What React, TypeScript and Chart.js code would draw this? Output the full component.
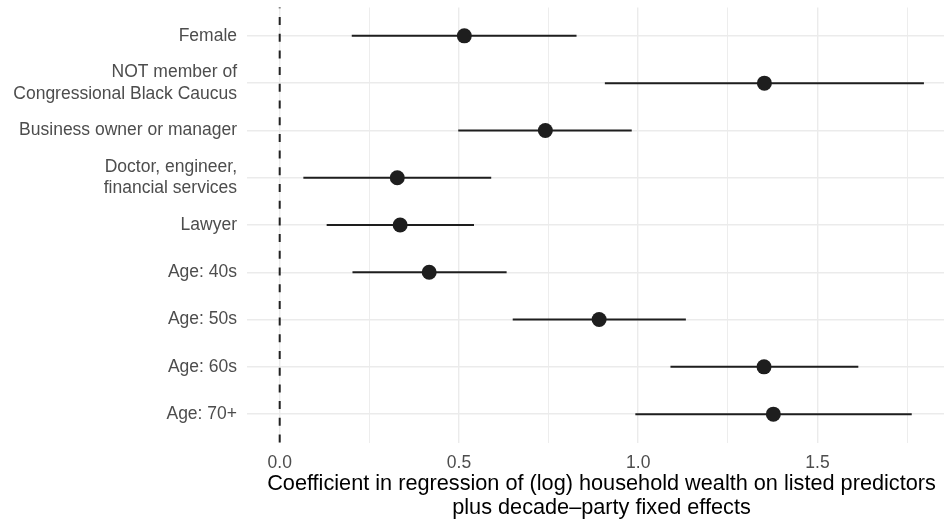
import React, { useEffect, useRef } from "react";
import { Chart, registerables } from "chart.js";

Chart.register(...registerables);

const categories: (string | string[])[] = [
  "Female",
  ["NOT member of", "Congressional Black Caucus"],
  "Business owner or manager",
  ["Doctor, engineer,", "financial services"],
  "Lawyer",
  "Age: 40s",
  "Age: 50s",
  "Age: 60s",
  "Age: 70+",
];
const estimates = [0.515, 1.352, 0.741, 0.328, 0.336, 0.417, 0.891, 1.351, 1.377];
const lower = [0.201, 0.907, 0.498, 0.066, 0.131, 0.203, 0.65, 1.09, 0.992];
const upper = [0.828, 1.797, 0.982, 0.59, 0.542, 0.633, 1.133, 1.614, 1.763];
const xTickValues = [0, 0.25, 0.5, 0.75, 1, 1.25, 1.5, 1.75];
const xTickLabels = ["0.0", "", "0.5", "", "1.0", "", "1.5", ""];
const xTitle = [
  "Coefficient in regression of (log) household wealth on listed predictors",
  "plus decade\u2013party fixed effects",
];
const referenceValue = 0;

const FONT = "'Liberation Sans', Arial, Helvetica, sans-serif";

export default function App() {
  const ref = useRef<HTMLCanvasElement>(null);

  useEffect(() => {
    if (!ref.current) return;
    const ink = "#1e1e1e";

    const ciSets = categories.map((_, i) => ({
      type: "scatter" as const,
      data: [
        { x: lower[i], y: i + 1 },
        { x: upper[i], y: i + 1 },
      ],
      showLine: true,
      borderColor: ink,
      borderWidth: 2,
      pointRadius: 0,
      order: 1,
    }));

    const pointSet = {
      type: "scatter" as const,
      data: estimates.map((x, i) => ({ x, y: i + 1 })),
      backgroundColor: ink,
      borderWidth: 0,
      pointRadius: 7.5,
      order: 0,
    };

    const refLine = {
      id: "refLine",
      beforeDatasetsDraw(chart: any) {
        const { ctx, chartArea, scales } = chart;
        const x = scales.x.getPixelForValue(referenceValue);
        ctx.save();
        ctx.strokeStyle = "#222";
        ctx.lineWidth = 2;
        ctx.setLineDash([8, 8.7]);
        ctx.beginPath();
        ctx.moveTo(x, chartArea.bottom);
        ctx.lineTo(x, chartArea.top);
        ctx.stroke();
        ctx.restore();
      },
    };

    const titlePlugin = {
      id: "xTitle",
      afterDraw(chart: any) {
        const { ctx, chartArea } = chart;
        ctx.save();
        ctx.font = `21.7px ${FONT}`;
        ctx.fillStyle = "#000";
        ctx.textAlign = "center";
        ctx.textBaseline = "middle";
        const cx = (chartArea.left + chartArea.right) / 2 + 6;
        xTitle.forEach((t, i) => ctx.fillText(t, cx, chartArea.bottom + 42 + i * 23.5));
        ctx.restore();
      },
    };

    const zeroPad = (scale: any) => {
      scale.paddingTop = 0;
      scale.paddingBottom = 0;
      scale.paddingLeft = 0;
      scale.paddingRight = 0;
    };

    const chart = new Chart(ref.current, {
      type: "scatter",
      data: { datasets: [pointSet, ...ciSets] as any },
      options: {
        animation: false,
        responsive: false,
        layout: { autoPadding: false, padding: { top: 7.5, left: 0, right: 0, bottom: 0 } },
        plugins: { legend: { display: false }, tooltip: { enabled: false } },
        scales: {
          x: {
            type: "linear",
            min: -0.0912,
            max: 1.853,
            afterBuildTicks: (scale: any) => {
              scale.ticks = xTickValues.map((v) => ({ value: v }));
            },
            afterFit: (scale: any) => {
              scale.height = 77.5;
              zeroPad(scale);
            },
            grid: {
              color: "#ebebeb",
              lineWidth: (c: any) => (Math.abs((c.tick?.value ?? 0) * 2 - Math.round((c.tick?.value ?? 0) * 2)) < 1e-6 ? 1.4 : 0.9),
              drawTicks: false,
            },
            border: { display: false },
            ticks: {
              padding: 10,
              color: "#4d4d4d",
              font: { family: FONT, size: 17.5 },
              maxRotation: 0,
              autoSkip: false,
              callback: (_v: any, i: number) => xTickLabels[i],
            },
          },
          y: {
            type: "linear",
            reverse: true,
            min: 0.4,
            max: 9.6,
            afterBuildTicks: (scale: any) => {
              scale.ticks = categories.map((_, i) => ({ value: i + 1 }));
            },
            afterFit: (scale: any) => {
              scale.width = 247;
              zeroPad(scale);
            },
            grid: { color: "#ebebeb", lineWidth: 1.4, drawTicks: false },
            border: { display: false },
            ticks: {
              padding: 10,
              color: "#4d4d4d",
              autoSkip: false,
              font: { family: FONT, size: 17.5, lineHeight: 1.25 },
              callback: (_v: any, i: number) => categories[i] as any,
            },
          },
        },
      },
      plugins: [refLine, titlePlugin],
    });

    return () => chart.destroy();
  }, []);

  return (
    <div style={{ position: "absolute", left: 0, top: 0, width: 944, height: 520, background: "#fff" }}>
      <canvas ref={ref} width={944} height={520} style={{ display: "block" }} />
    </div>
  );
}
